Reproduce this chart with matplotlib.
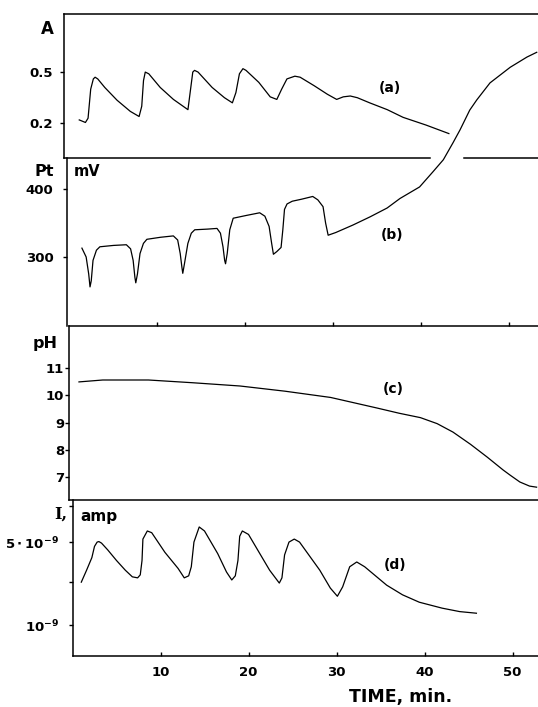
import numpy as np
import matplotlib
matplotlib.use("Agg")
import matplotlib.pyplot as plt
from matplotlib.ticker import NullLocator

plt.rcParams['font.family'] = ['DejaVu Sans']
plt.rcParams['font.weight'] = 'bold'
plt.rcParams['mathtext.fontset'] = 'dejavusans'
plt.rcParams['mathtext.default'] = 'bf'

# (a) absorbance
t_a = [1.7, 2.4, 2.7, 3.0, 3.3, 3.5, 3.8, 4.6, 6.0, 7.5, 8.5, 8.8, 9.0, 9.2, 9.6,
       10.9, 12.4, 14.05, 14.35, 14.6, 14.8, 15.2, 16.8, 18.2, 19.1, 19.5, 19.9,
       20.3, 20.65, 22.1, 23.4, 24.15, 24.7, 25.3, 26.2, 26.8, 28.4, 29.9, 30.95,
       31.7, 32.5, 33.3, 34.7, 36.7, 38.5, 41.1, 43.7]
absorb = [0.22, 0.205, 0.23, 0.40, 0.46, 0.47, 0.46, 0.41, 0.335, 0.27, 0.24, 0.30,
          0.45, 0.50, 0.49, 0.41, 0.34, 0.28, 0.40, 0.50, 0.51, 0.50, 0.41, 0.35,
          0.32, 0.38, 0.49, 0.52, 0.51, 0.44, 0.355, 0.34, 0.40, 0.46, 0.476, 0.47,
          0.42, 0.37, 0.34, 0.355, 0.36, 0.35, 0.32, 0.28, 0.235, 0.19, 0.14]

# (b) Pt electrode potential, mV
t_b = [1.73, 2.21, 2.5, 2.65, 2.79, 2.99, 3.38, 3.77, 5.32, 6.78, 7.26, 7.55, 7.75,
       7.85, 8.04, 8.33, 8.72, 9.11, 10.67, 12.12, 12.61, 12.9, 13.09, 13.19, 13.38,
       13.77, 14.16, 14.55, 16.01, 17.08, 17.47, 17.76, 17.95, 18.05, 18.24, 18.53,
       18.92, 20.38, 21.93, 22.52, 23.0, 23.29, 23.49, 23.88, 24.36, 24.56, 24.75,
       25.04, 25.63, 26.7, 27.96, 28.54, 29.13, 29.42, 29.71, 30.58, 32.53, 34.47,
       36.41, 37.87, 40.1, 41.6, 42.8, 43.9, 44.7, 45.8, 46.6, 48.1, 50.4, 52.3,
       53.41]
pt_mv = [313, 300, 275, 256, 265, 295, 310, 315, 317, 318, 312, 295, 270, 262, 275,
         305, 320, 326, 329, 331, 325, 305, 285, 276, 290, 320, 335, 340, 341, 342,
         335, 315, 295, 290, 305, 340, 357, 361, 365, 360, 345, 320, 304, 308, 314,
         340, 370, 378, 382, 385, 389, 384, 374, 350, 332, 336, 347, 359, 372, 386,
         403, 425, 443, 468, 487, 516, 531, 556, 579, 594, 601]

# (c) pH
t_c = [1.1, 3.8, 9.0, 14.0, 19.4, 24.5, 29.7, 35.0, 37.5, 39.9, 41.8, 43.6, 45.6,
       47.5, 49.3, 50.1, 51.2, 52.3, 53.1]
ph = [10.49, 10.56, 10.56, 10.46, 10.34, 10.15, 9.92, 9.53, 9.34, 9.18, 8.96, 8.65,
      8.2, 7.73, 7.26, 7.07, 6.82, 6.67, 6.63]

# (d) current, in units of 1e-9 amp
t_d = [1.0, 1.6, 2.2, 2.5, 2.8, 3.0, 3.3, 4.0, 5.0, 6.0, 6.8, 7.4, 7.7, 7.9, 8.0,
       8.5, 9.0, 10.5, 12.0, 12.7, 13.2, 13.5, 13.8, 14.4, 15.0, 16.5, 17.5, 18.1,
       18.5, 18.8, 19.0, 19.3, 20.0, 21.2, 22.4, 23.5, 23.8, 24.1, 24.6, 25.2, 25.8,
       28.1, 29.3, 30.1, 30.7, 31.5, 32.3, 33.2, 35.7, 37.5, 39.4, 42.0, 44.0, 45.9]
cur_n = [2.3, 2.9, 3.7, 4.6, 5.0, 5.05, 4.9, 4.3, 3.5, 2.9, 2.55, 2.5, 2.65, 3.5,
         5.3, 6.2, 6.0, 4.1, 3.0, 2.5, 2.6, 3.1, 5.0, 6.7, 6.2, 4.0, 2.8, 2.4, 2.6,
         3.5, 5.6, 6.2, 5.8, 4.1, 2.9, 2.26, 2.5, 3.9, 5.0, 5.3, 5.0, 2.9, 2.05, 1.75,
         2.1, 3.1, 3.4, 3.1, 2.17, 1.8, 1.56, 1.39, 1.3, 1.26]

time_ticks = [10, 20, 30, 40, 50]
a_ticks = [0.2, 0.5]
b_ticks = [300, 400]
c_ticks = [7, 8, 9, 10, 11]
d_ticks = [1e-9, 2.3e-9, 5e-9, 1e-8]
d_ticklabels = [r'$10^{-9}$', '', r'$5\cdot10^{-9}$', '']

W, H = 538, 707
PXMIN = 8.8  # pixels per minute
LW = 0.9

fig = plt.figure(figsize=(W / 100, H / 100), dpi=100)


def add_panel(left, top, bottom, pad):
  ax = fig.add_axes([left / W, 1 - bottom / H, (W - left) / W, (bottom - top) / H])
  ax.set_xlim(0, (W - left) / PXMIN)
  ax.patch.set_alpha(0)
  for s in ['top', 'right', 'bottom']:
    ax.spines[s].set_visible(False)
  for s in ['top', 'bottom', 'left']:
    ax.spines[s].set_linewidth(1.1)
  ax.tick_params(axis='y', direction='out', length=3, width=1, labelsize=9.5, pad=pad)
  ax.tick_params(axis='x', bottom=False, labelbottom=False)
  return ax


def px_text(x, y, s, size, **kw):
  fig.text(x / W, 1 - y / H, s, ha='center', va='center', fontsize=size,
           fontweight='bold', **kw)


# (a)
ax_a = add_panel(64.3, 14, 157.5, 5.5)
ax_a.spines['top'].set_visible(True)
ax_a.set_ylim(0, 0.84)
ax_a.set_yticks(a_ticks)
ax_a.set_yticklabels(['0.2', '0.5'])
ax_a.plot(t_a, absorb, color='black', lw=LW)
xm = ax_a.get_xlim()[1]
sep = ax_a.get_xaxis_transform()
ax_a.plot([0, 41.6], [0, 0], color='black', lw=1.1, transform=sep, clip_on=False)
ax_a.plot([45.4, xm], [0, 0], color='black', lw=1.1, transform=sep, clip_on=False)
ax_a.text(37.0, 0.405, '(a)', ha='center', va='center', fontsize=10)

# (b)
ax_b = add_panel(66.7, 157.5, 326, 6.5)
ax_b.set_ylim(198.5, 446.3)
ax_b.set_yticks(b_ticks)
ax_b.plot(t_b, pt_mv, color='black', lw=LW, clip_on=False)
ax_b.text(37.0, 332, '(b)', ha='center', va='center', fontsize=10)

# (c)
ax_c = add_panel(69.3, 326, 500, 0.8)
ax_c.spines['top'].set_visible(True)
ax_c.spines['bottom'].set_visible(True)
ax_c.set_ylim(6.16, 12.54)
ax_c.set_yticks(c_ticks)
ax_c.set_xticks(time_ticks)
ax_c.tick_params(axis='x', top=True, labeltop=False, direction='out', length=3, width=1)
ax_c.plot(t_c, ph, color='black', lw=LW)
ax_c.text(36.8, 10.23, '(c)', ha='center', va='center', fontsize=10)

# (d)
ax_d = add_panel(72.5, 500, 656, 6.5)
ax_d.spines['bottom'].set_visible(True)
ax_d.set_yscale('log')
ax_d.set_ylim(5.5e-10, 1.13e-8)
ax_d.set_yticks(d_ticks)
ax_d.set_yticklabels(d_ticklabels)
ax_d.yaxis.set_minor_locator(NullLocator())
ax_d.set_xticks(time_ticks)
ax_d.tick_params(axis='x', bottom=True, labelbottom=True, direction='in', length=3,
                 width=1, labelsize=9.5, pad=7)
ax_d.plot(t_d, np.array(cur_n) * 1e-9, color='black', lw=LW)
ax_d.text(36.6, 3.2e-9, '(d)', ha='center', va='center', fontsize=10)

# axis captions
px_text(47, 29, 'A', 12)
px_text(44, 171, 'Pt', 11.5)
px_text(87, 172, 'mV', 10.5)
px_text(45, 344, 'pH', 11.5)
px_text(61, 514, 'I,', 11.5, family='DejaVu Serif')
px_text(99, 516, 'amp', 11)
px_text(401, 697, 'TIME, min.', 12.5)

plt.savefig('out.png', dpi=100)
